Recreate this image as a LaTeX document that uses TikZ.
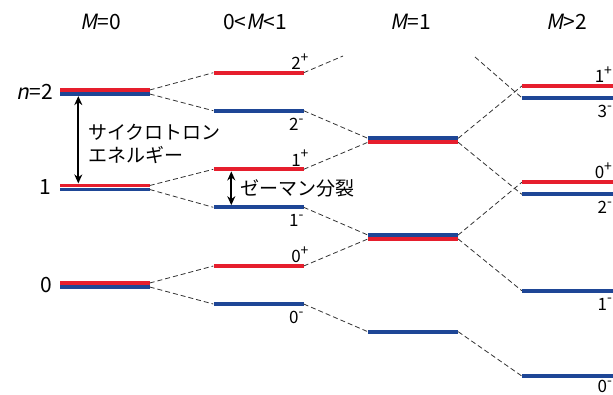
\documentclass[tikz,border=0pt]{standalone}
\usepackage{fontspec}
\setmainfont{Noto Sans CJK JP}[AutoFakeSlant=0.2]
\usetikzlibrary{arrows.meta, positioning}
\definecolor{levred}{RGB}{230,30,45}
\definecolor{levblue}{RGB}{30,70,150}
\definecolor{dashgray}{RGB}{50,50,50}
\newcommand{\sgnup}{\raisebox{.42em}{\fontsize{14}{14}\selectfont +}}
\newcommand{\sgndn}{\raisebox{.42em}{\fontsize{14}{14}\selectfont -}}

\begin{document}
\begin{tikzpicture}[x=1pt, y=-1pt,
  lev/.style={rectangle, inner sep=0pt, minimum width=90pt, minimum height=3.8pt},
  levup/.style={lev, fill=levred},
  levdn/.style={lev, fill=levblue},
  dashcon/.style={dash pattern=on 5pt off 3pt, line width=0.8pt, draw=dashgray},
  gaparrow/.style={{Stealth[length=9pt,width=8pt]}-{Stealth[length=9pt,width=8pt]}, line width=1.7pt},
  hdr/.style={font=\fontsize{21}{23}\selectfont, inner sep=0pt},
  lvlnum/.style={font=\fontsize{21}{23}\selectfont, anchor=east, inner sep=0pt},
  ptag/.style={font=\fontsize{17}{19}\selectfont, inner sep=0pt, anchor=south east},
  mtag/.style={font=\fontsize{17}{19}\selectfont, inner sep=0pt, anchor=north east},
  jptext/.style={font=\fontsize{19}{23}\selectfont, align=left, inner sep=0pt, anchor=west}
]
  \useasboundingbox (0,0) rectangle (613,394);

  % column headers
  \node[hdr] (h0) at (101,21.5) {\textit{M}=0};
  \node[hdr] (h1) at (255,21.5) {0<\textit{M}<1};
  \node[hdr] (h2) at (411,21.5) {\textit{M}=1};
  \node[hdr] (h3) at (567,21.5) {\textit{M}>2};

  % M=0
  \node[levup] (a2p) at (104.5,90)  {};
  \node[levdn] (a2m) at (104.5,94)  {};
  \node[levup] (a1p) at (104.5,185.5) {};
  \node[levdn] (a1m) at (104.5,189.5) {};
  \node[levup] (a0p) at (104.5,283) {};
  \node[levdn] (a0m) at (104.5,287) {};
  \node[lvlnum] (n2) at (53,92)  {\textit{n}=2};
  \node[lvlnum] (n1) at (51,187) {1};
  \node[lvlnum] (n0) at (52,285) {0};

  % 0<M<1
  \node[levup] (b2p) at (258.5,72.7)  {};
  \node[levdn] (b2m) at (258.5,110.7) {};
  \node[levup] (b1p) at (258.5,169.3) {};
  \node[levdn] (b1m) at (258.5,207.3) {};
  \node[levup] (b0p) at (258.5,266)   {};
  \node[levdn] (b0m) at (258.5,304)   {};
  \node[ptag] at ([xshift=5pt,yshift=1pt]b2p.north east) {2\sgnup};
  \node[mtag] at ([yshift=-5pt]b2m.south east) {2\sgndn};
  \node[ptag] at ([xshift=5pt,yshift=1pt]b1p.north east) {1\sgnup};
  \node[mtag] at ([yshift=-5pt]b1m.south east) {1\sgndn};
  \node[ptag] at ([xshift=5pt,yshift=1pt]b0p.north east) {0\sgnup};
  \node[mtag] at ([yshift=-5pt]b0m.south east) {0\sgndn};

  % M=1
  \node[levdn] (cAm) at (413,138.3) {};
  \node[levup] (cAp) at (413,142.3) {};
  \node[levdn] (cBm) at (413,235)   {};
  \node[levup] (cBp) at (413,239)   {};
  \node[levdn] (cC)  at (413,331.7) {};

  % M>2
  \node[levup, minimum width=91pt] (d1p) at (567.5,86)    {};
  \node[levdn, minimum width=91pt] (d3m) at (567.5,97.7)  {};
  \node[levup, minimum width=91pt] (d0p) at (567.5,182.3) {};
  \node[levdn, minimum width=91pt] (d2m) at (567.5,194.3) {};
  \node[levdn, minimum width=91pt] (d1m) at (567.5,290.7) {};
  \node[levdn, minimum width=91pt] (d0m) at (567.5,376)   {};
  \node[ptag] at ([xshift=-1pt,yshift=1pt]d1p.north east) {1\sgnup};
  \node[mtag] at ([xshift=-1pt,yshift=-5pt]d3m.south east) {3\sgndn};
  \node[ptag] at ([xshift=-1pt,yshift=1pt]d0p.north east) {0\sgnup};
  \node[mtag] at ([xshift=-1pt,yshift=-5pt]d2m.south east) {2\sgndn};
  \node[mtag] at ([xshift=-1pt,yshift=-5pt]d1m.south east) {1\sgndn};
  \node[mtag] at ([xshift=-1pt,yshift=-2pt]d0m.south east) {0\sgndn};

  % splitting
  \draw[dashcon] (a2p.east) -- (b2p.west);
  \draw[dashcon] (a2m.east) -- (b2m.west);
  \draw[dashcon] (a1p.east) -- (b1p.west);
  \draw[dashcon] (a1m.east) -- (b1m.west);
  \draw[dashcon] (a0p.east) -- (b0p.west);
  \draw[dashcon] (a0m.east) -- (b0m.west);

  \coordinate (top2) at (343,56);
  \coordinate (top3) at (475,57);
  \draw[dashcon] (b2p.east) -- (top2);
  \draw[dashcon] (b2m.east) -- (cAm.west);
  \draw[dashcon] (b1p.east) -- (cAp.west);
  \draw[dashcon] (b1m.east) -- (cBm.west);
  \draw[dashcon] (b0p.east) -- (cBp.west);
  \draw[dashcon] (b0m.east) -- (cC.west);

  \draw[dashcon] (top3) -- (d3m.west);
  \draw[dashcon] (cAm.east) -- (d1p.west);
  \draw[dashcon] (cAp.east) -- (d2m.west);
  \draw[dashcon] (cBm.east) -- (d0p.west);
  \draw[dashcon] (cBp.east) -- (d1m.west);
  \draw[dashcon] (cC.east)  -- (d0m.west);

  % energy gaps
  \draw[gaparrow] ([xshift=19pt]a2m.south west) -- ([xshift=19pt]a1p.north west);
  \node[jptext] (cyclo) at (88,143.5) {サイクロトロン\\エネルギー};
  \draw[gaparrow] ([xshift=18pt]b1p.south west) -- ([xshift=18pt]b1m.north west);
  \node[jptext] (zeeman) at (240,188) {ゼーマン分裂};
\end{tikzpicture}
\end{document}
